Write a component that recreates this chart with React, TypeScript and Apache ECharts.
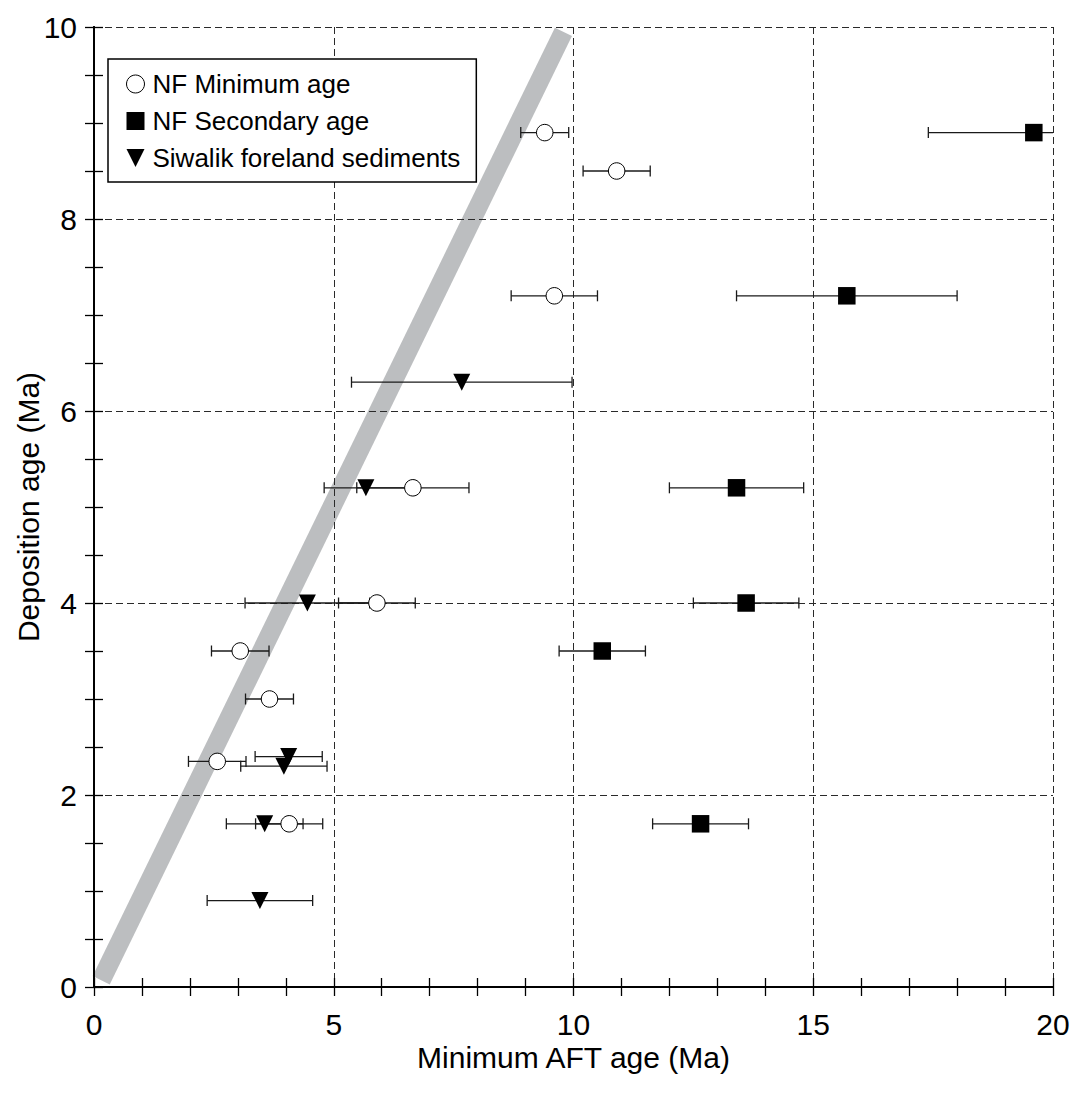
import React, { useEffect, useRef } from "react";
import * as echarts from "echarts";

// ---- data ----
const seriesNames = ["NF Minimum age", "NF Secondary age", "Siwalik foreland sediments"];

const minAgeX = [9.4, 10.9, 9.6, 6.65, 5.9, 3.05, 3.66, 2.57, 4.07];
const minAgeY = [8.9, 8.5, 7.2, 5.2, 4.0, 3.5, 3.0, 2.35, 1.7];
const minAgeErr = [0.5, 0.7, 0.9, 1.17, 0.8, 0.6, 0.5, 0.6, 0.7];

const secAgeX = [19.6, 15.7, 13.4, 13.6, 10.6, 12.65];
const secAgeY = [8.9, 7.2, 5.2, 4.0, 3.5, 1.7];
const secAgeErr = [2.2, 2.3, 1.4, 1.1, 0.9, 1.0];

const siwalikX = [7.67, 5.67, 4.45, 4.06, 3.96, 3.56, 3.46];
const siwalikY = [6.3, 5.2, 4.0, 2.4, 2.3, 1.7, 0.9];
const siwalikErr = [2.3, 0.87, 1.3, 0.7, 0.9, 0.8, 1.1];

const refLineX = [0.15, 9.79];
const refLineY = [0.07, 9.95];

const xMin = 0;
const xMax = 20;
const xInterval = 5;
const yMin = 0;
const yMax = 10;
const yInterval = 2;

const xTitle = "Minimum AFT age (Ma)";
const yTitle = "Deposition age (Ma)";

const FONT = "'Liberation Sans', Arial, Helvetica, sans-serif";

function points(xs: number[], ys: number[]) {
  return xs.map((x, i) => [x, ys[i]]);
}
function errData(xs: number[], ys: number[], es: number[]) {
  return xs.map((x, i) => [x, ys[i], x - es[i], x + es[i]]);
}

const renderErr = (params: any, api: any) => {
  const y = api.value(1);
  const p1 = api.coord([api.value(2), y]);
  const p2 = api.coord([api.value(3), y]);
  const h = 5.5;
  const style = { stroke: "#1a1a1a", lineWidth: 1.3 };
  return {
    type: "group",
    children: [
      { type: "line", shape: { x1: p1[0], y1: p1[1], x2: p2[0], y2: p2[1] }, style },
      { type: "line", shape: { x1: p1[0], y1: p1[1] - h, x2: p1[0], y2: p1[1] + h }, style },
      { type: "line", shape: { x1: p2[0], y1: p2[1] - h, x2: p2[0], y2: p2[1] + h }, style },
    ],
  };
};

const TRI_DOWN = "path://M0,0L20,0L10,20Z";

export default function App() {
  const ref = useRef<HTMLDivElement>(null);

  useEffect(() => {
    if (!ref.current) return;
    const chart = echarts.init(ref.current, null, { renderer: "svg" });

    const axisLine = { show: true, lineStyle: { color: "#000", width: 2 } };
    const tick = { show: true, inside: true, length: 9, lineStyle: { color: "#000", width: 1.3 } };
    const minorTickX = { show: true, splitNumber: 5, length: 9, lineStyle: { color: "#000", width: 1.3 } };
    const minorTickY = { show: true, splitNumber: 4, length: 9, lineStyle: { color: "#000", width: 1.3 } };
    const grid = { show: true, lineStyle: { color: "#2a2a2a", width: 1, type: [7, 4] } };

    const option: any = {
      animation: false,
      backgroundColor: "#fff",
      textStyle: { fontFamily: FONT },
      grid: {
        left: 94,
        top: 27,
        width: 959,
        height: 960,
        containLabel: false,
        outerBoundsMode: "none",
      },
      legend: {
        orient: "vertical",
        left: 108,
        top: 59,
        padding: [10, 16, 9, 18],
        itemWidth: 18,
        itemHeight: 18,
        itemGap: 7,
        borderColor: "#000",
        borderWidth: 1.5,
        backgroundColor: "#fff",
        selectedMode: false,
        textStyle: { fontFamily: FONT, fontSize: 26, color: "#000", lineHeight: 30, padding: [0, 0, 0, 3] },
        data: [
          { name: seriesNames[0], itemStyle: { color: "#fff", borderColor: "#000", borderWidth: 1, opacity: 1 } },
          { name: seriesNames[1], itemStyle: { color: "#000", borderWidth: 0, opacity: 1 } },
          { name: seriesNames[2], itemStyle: { color: "#000", borderWidth: 0, opacity: 1 } },
        ],
        z: 10,
      },
      xAxis: [
        {
          type: "value",
          min: xMin,
          max: xMax,
          interval: xInterval,
          position: "bottom",
          z: 1,
          axisLine,
          axisTick: tick,
          minorTick: minorTickX,
          splitLine: grid,
          axisLabel: { fontFamily: FONT, fontSize: 30, color: "#000", margin: 22 },
          name: xTitle,
          nameLocation: "middle",
          nameGap: 55,
          nameMoveOverlap: false,
          nameTextStyle: { fontFamily: FONT, fontSize: 30, color: "#000" },
        },
        {
          type: "value",
          min: xMin,
          max: xMax,
          interval: xInterval,
          position: "top",
          axisLine,
          axisTick: tick,
          minorTick: minorTickX,
          splitLine: { show: false },
          axisLabel: { show: false },
        },
      ],
      yAxis: [
        {
          type: "value",
          min: yMin,
          max: yMax,
          interval: yInterval,
          position: "left",
          z: 1,
          axisLine,
          axisTick: tick,
          minorTick: minorTickY,
          splitLine: grid,
          axisLabel: { fontFamily: FONT, fontSize: 30, color: "#000", margin: 17 },
          name: yTitle,
          nameLocation: "middle",
          nameGap: 51,
          nameMoveOverlap: false,
          nameTextStyle: { fontFamily: FONT, fontSize: 30, color: "#000" },
        },
        {
          type: "value",
          min: yMin,
          max: yMax,
          interval: yInterval,
          position: "right",
          axisLine,
          axisTick: tick,
          minorTick: minorTickY,
          splitLine: { show: false },
          axisLabel: { show: false },
        },
      ],
      series: [
        {
          name: "1:1 line",
          type: "line",
          data: points(refLineX, refLineY),
          symbol: "none",
          z: 0,
          lineStyle: { color: "#bcbec0", width: 19, cap: "butt" },
          silent: true,
        },
        {
          name: "err-min",
          type: "custom",
          renderItem: renderErr,
          data: errData(minAgeX, minAgeY, minAgeErr),
          encode: { x: [0, 2, 3], y: 1 },
          clip: true,
          z: 2,
          silent: true,
        },
        {
          name: "err-sec",
          type: "custom",
          renderItem: renderErr,
          data: errData(secAgeX, secAgeY, secAgeErr),
          encode: { x: [0, 2, 3], y: 1 },
          clip: true,
          z: 2,
          silent: true,
        },
        {
          name: "err-siw",
          type: "custom",
          renderItem: renderErr,
          data: errData(siwalikX, siwalikY, siwalikErr),
          encode: { x: [0, 2, 3], y: 1 },
          clip: true,
          z: 2,
          silent: true,
        },
        {
          name: seriesNames[0],
          type: "scatter",
          data: points(minAgeX, minAgeY),
          symbol: "circle",
          symbolSize: 16.5,
          itemStyle: { color: "#fff", borderColor: "#000", borderWidth: 1, opacity: 1 },
          z: 3,
        },
        {
          name: seriesNames[1],
          type: "scatter",
          data: points(secAgeX, secAgeY),
          symbol: "rect",
          symbolSize: 17.5,
          itemStyle: { color: "#000", opacity: 1 },
          z: 3,
        },
        {
          name: seriesNames[2],
          type: "scatter",
          data: points(siwalikX, siwalikY),
          symbol: TRI_DOWN,
          symbolSize: [17, 17],
          itemStyle: { color: "#000", opacity: 1 },
          z: 4,
        },
      ],
    };

    chart.setOption(option);
    return () => chart.dispose();
  }, []);

  return (
    <div
      ref={ref}
      style={{ position: "absolute", left: 0, top: 0, width: 1081, height: 1093, background: "#fff" }}
    />
  );
}
